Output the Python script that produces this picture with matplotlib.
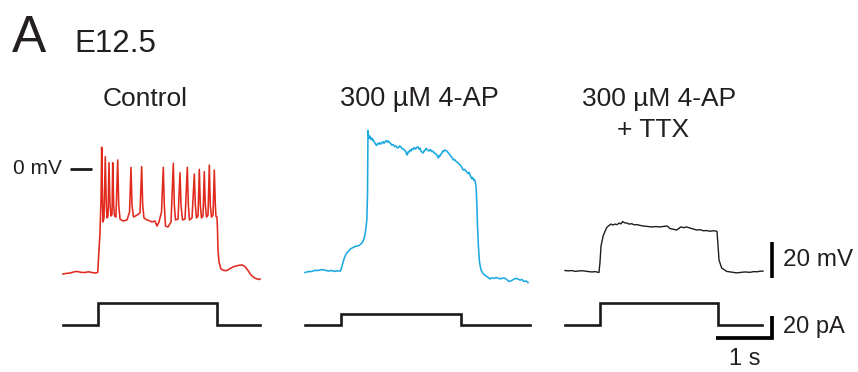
import matplotlib
matplotlib.use("Agg")
import matplotlib.pyplot as plt

plt.rcParams["font.family"] = ["Liberation Sans", "DejaVu Sans"]
INK = "#231f20"

# ---- recorded membrane potential (time in s, voltage in mV) ----
ctrl_t = [0, 0.06, 0.125, 0.19, 0.25, 0.32, 0.393, 0.45, 0.518, 0.57, 0.620, 0.643, 0.661,
          0.679, 0.691, 0.705, 0.714,
          0.732, 0.755, 0.773, 0.786, 0.804, 0.821, 0.839, 0.857, 0.875, 0.888, 0.905, 0.920,
          0.946, 0.977, 0.995, 1.018, 1.071, 1.143, 1.188, 1.214, 1.232, 1.259, 1.321, 1.375,
          1.405, 1.423, 1.446, 1.5, 1.554, 1.589, 1.643, 1.679, 1.714, 1.759, 1.791, 1.809,
          1.830, 1.875, 1.929, 1.970, 1.988, 2.009, 2.054, 2.089, 2.107, 2.134, 2.179, 2.220,
          2.238, 2.259, 2.304, 2.345, 2.363, 2.384, 2.411, 2.434, 2.452, 2.473, 2.5, 2.523,
          2.541, 2.563, 2.589, 2.613, 2.630, 2.652, 2.679, 2.702, 2.720, 2.732, 2.75, 2.759,
          2.768, 2.786, 2.821, 2.875, 2.929, 2.982, 3.054, 3.125, 3.196, 3.25, 3.304, 3.357,
          3.429, 3.5, 3.518]
ctrl_v = [-58.3, -58.0, -57.8, -57.2, -56.9, -57.4, -57.5, -57.1, -57.5, -57.8, -57.5, -45, -35,
          -17.2, 12.1, -17.2, -29.4,
          -27.2, 6.8, -20, -27.2, -26.1, 3.5, -20, -26.1, -25.3, 3.5, -20, -26.1,
          -26.7, 5, -20, -27.8, -28.9, -28.3, -23.9, 0.9, -20, -26.7, -25.6, -24.4,
          1.3, -20, -27.2, -28.3, -28.9, -29.4, -28.9, -31.7, -29.4, -23.9, 0.9, -20,
          -31.7, -32.2, -29.4, 3.2, -20, -28.3, -27.8, -2.1, -20, -28.3, -27.8, 0.9,
          -20, -28.3, -27.2, -2.8, -20, -27.2, -26.1, -0.2, -20, -27.2, -26.1, -1.5,
          -20, -26.7, -25.6, 2.2, -20, -26.7, -25.6, -0.6, -20, -26.4, -26.7, -33.9,
          -45, -51.7, -55.6, -56.4, -56.4, -55.3, -54.2, -53.6, -53.3, -54.2, -56.4, -58.9,
          -60.7, -61.4, -61.1]

fourap_t = [0, 0.06, 0.125, 0.18, 0.232, 0.29, 0.339, 0.39, 0.429, 0.475, 0.518, 0.58, 0.634,
            0.661, 0.696, 0.732, 0.777, 0.821,
            0.893, 0.964, 1.018, 1.054, 1.080, 1.104, 1.116, 1.121, 1.125,
            1.135, 1.148, 1.160, 1.170, 1.179, 1.195, 1.208, 1.220, 1.235, 1.25, 1.265, 1.280,
            1.296, 1.313, 1.330, 1.350, 1.370, 1.390, 1.410, 1.429, 1.450, 1.470, 1.488, 1.505,
            1.527, 1.550, 1.577, 1.600, 1.625, 1.645, 1.666, 1.690, 1.714, 1.735, 1.755, 1.775,
            1.795, 1.810, 1.827, 1.842, 1.857, 1.875, 1.893, 1.910, 1.929, 1.950, 1.970, 1.995,
            2.015, 2.036, 2.055, 2.071, 2.090, 2.113, 2.128, 2.143, 2.158, 2.173, 2.195, 2.214,
            2.240, 2.263, 2.285, 2.304, 2.330, 2.352, 2.368, 2.384, 2.398, 2.411, 2.430, 2.446,
            2.460, 2.470, 2.500, 2.530, 2.548, 2.563, 2.578, 2.589, 2.607, 2.625, 2.638, 2.648,
            2.670, 2.696, 2.716, 2.738, 2.762, 2.786, 2.805, 2.827, 2.850, 2.875, 2.895, 2.916,
            2.930, 2.946, 2.962, 2.977, 2.992, 3.009, 3.025, 3.036, 3.054, 3.066,
            3.080, 3.095, 3.116, 3.143, 3.179, 3.232, 3.27, 3.304, 3.34, 3.375, 3.41, 3.446,
            3.48, 3.518, 3.55, 3.589, 3.643, 3.696, 3.73, 3.768, 3.80, 3.839, 3.875, 3.911,
            3.95, 3.982]
fourap_v = [-57.5, -57.0, -56.9, -56.3, -56.4, -55.9, -56.1, -56.5, -56.7, -56.3, -56.9, -56.6,
            -56.7, -53.9, -50, -47.2, -45.6, -44.2,
            -43.1, -42.5, -41.1, -38.9, -35, -28.3, -14.4, 5, 21.4,
            18.0, 17.2, 18.3, 16.9, 16.4, 17.2, 15.9, 16.1, 15.0, 14.4, 13.5, 13.1,
            14.2, 13.9, 14.6, 13.8, 14.4, 15.2, 14.3, 15.0, 15.8, 14.9, 15.6, 14.7,
            14.4, 13.2, 13.6, 12.4, 12.8, 11.9, 11.7, 12.8, 12.2, 11.3, 11.1, 10.4,
            10.0, 8.6, 7.8, 9.6, 9.4, 10.6, 10.0, 11.2, 10.8, 11.9, 11.1, 11.9,
            12.4, 11.1, 11.6, 10.0, 9.3, 8.9, 10.2, 10.3, 11.4, 11.1, 10.4, 10.0,
            10.8, 9.7, 9.9, 8.9, 8.6, 7.8, 6.9, 6.1, 7.6, 7.2, 8.4, 8.9,
            10.0, 9.7, 10.6, 10.0, 9.4, 8.9, 8.2, 7.8, 7.2, 6.4, 5.8, 5.0,
            5.3, 4.2, 3.9, 3.1, 2.6, 1.7, 0.6, -0.6, -0.2, -1.1, -2.0, -2.5,
            -1.9, -3.3, -4.4, -5.3, -4.7, -6.1, -5.8, -6.7, -9.4, -17.2,
            -31.1, -42.2, -51.7, -56.1, -58.1, -59.4, -60.2, -61.1, -60.4, -60.8, -60.3, -60.6,
            -61.0, -60.8, -60.5, -61.1, -62.5, -61.9, -61.2, -60.8, -61.0, -61.7, -61.4, -62.5,
            -62.2, -63.1]

ttx_t = [0, 0.06, 0.125, 0.18, 0.232, 0.30, 0.357, 0.42, 0.482, 0.54, 0.607, 0.625, 0.643,
         0.684, 0.745, 0.816, 0.855, 0.893,
         0.930, 0.970, 1.000, 1.030, 1.065, 1.102, 1.145, 1.191, 1.235, 1.280, 1.340, 1.398,
         1.470, 1.548, 1.620, 1.696, 1.760, 1.827, 1.875, 1.935, 1.995, 2.066, 2.120,
         2.173, 2.263, 2.310, 2.352, 2.410, 2.470, 2.530, 2.589, 2.650, 2.714, 2.732, 2.75,
         2.798, 2.888, 3.0, 3.06, 3.125, 3.21, 3.304, 3.37, 3.429, 3.48, 3.536]
ttx_v = [-56.4, -56.6, -56.4, -56.9, -56.7, -56.5, -56.7, -57.0, -57.2, -57.0, -57.5, -51.7, -42.8,
         -36.9, -32.5, -30.6, -31.1, -30.6,
         -30.9, -30.0, -30.5, -29.2, -29.9, -30.0, -30.6, -30.4, -31.0, -30.9, -31.3, -31.7,
         -31.9, -32.2, -32.0, -32.2, -31.9, -31.7, -33.1, -33.5, -33.9, -32.2, -32.6,
         -32.2, -33.1, -33.5, -33.9, -33.7, -34.3, -34.2, -34.6, -34.3, -34.6, -42.2, -50.6,
         -55, -56.9, -57.4, -57.7, -57.5, -57.2, -57.4, -57.0, -57.1, -56.8, -56.7]

# ---- current injection protocol (s, pA) ----
step_on = [0.62, 0.643, 0.625]
step_off = [2.75, 2.786, 2.738]
step_end = [3.52, 4.02, 3.52]
step_amp = [20, 10, 20]

titles = ["Control", "300 µM 4-AP", "300 µM 4-AP"]
colors = ["#e1291d", "#1ca9e1", "#1e1e1e"]
trace_lw = [1.15, 1.15, 1.0]

# ---- layout (pixels) ----
W, H = 858, 372
PX_PER_S = 56.0
PX_PER_MV = 1.8
PX_PER_PA = 1.1
ZERO_MV_Y = 169.0
ZERO_PA_Y = 324.5
panel_left = [63, 305, 565]
panel_w = 240
v_top, v_h = 118, 172
i_top, i_h = 294, 56

fig = plt.figure(figsize=(W / 100, H / 100), dpi=100)


def px_axes(left, top, width, height):
    ax = fig.add_axes([left / W, 1 - (top + height) / H, width / W, height / H])
    ax.set_axis_off()
    ax.set_xlim(0, width / PX_PER_S)
    return ax


v_axes, i_axes = [], []
for k in range(3):
    av = px_axes(panel_left[k], v_top, panel_w, v_h)
    av.set_ylim((ZERO_MV_Y - (v_top + v_h)) / PX_PER_MV, (ZERO_MV_Y - v_top) / PX_PER_MV)
    ai = px_axes(panel_left[k], i_top, panel_w, i_h)
    ai.set_ylim((ZERO_PA_Y - (i_top + i_h)) / PX_PER_PA, (ZERO_PA_Y - i_top) / PX_PER_PA)
    v_axes.append(av)
    i_axes.append(ai)

traces = [(ctrl_t, ctrl_v), (fourap_t, fourap_v), (ttx_t, ttx_v)]
for k, (t, v) in enumerate(traces):
    v_axes[k].plot(t, v, color=colors[k], lw=trace_lw[k], solid_joinstyle="round",
                   clip_on=False)
    st = [0, step_on[k], step_on[k], step_off[k], step_off[k], step_end[k]]
    si = [0, 0, step_amp[k], step_amp[k], 0, 0]
    i_axes[k].plot(st, si, color="#1a1a1a", lw=1.9, solid_joinstyle="miter",
                   clip_on=False)

# 0 mV reference
av0 = v_axes[0]
av0.plot([0.125, 0.518], [0, 0], color="#1a1a1a", lw=2.0, solid_capstyle="butt")
av0.text(-0.02, 0, "0 mV", ha="right", va="center", fontsize=15, color=INK)

# scale bars (TTX panel)
avs, ais = v_axes[2], i_axes[2]
bar_x = 3.705
avs.plot([bar_x, bar_x], [-60.5, -40.5], color="black", lw=2.6,
         solid_capstyle="butt", clip_on=False)
avs.text(bar_x + 0.19, -50.3, "20 mV", ha="left", va="center", fontsize=17.5, color=INK)
ais.plot([bar_x - 1.0, bar_x, bar_x], [-12.3, -12.3, 7.7], color="black", lw=2.7,
         solid_capstyle="butt", solid_joinstyle="miter", clip_on=False)
ais.text(bar_x + 0.19, -2.0, "20 pA", ha="left", va="center", fontsize=17, color=INK)
ais.text(bar_x - 0.5, -31.0, "1 s", ha="center", va="center", fontsize=17, color=INK)

# headings
fig.text(12 / W, 1 - 52 / H, "A", fontsize=37, ha="left", va="baseline", color=INK)
fig.text(74 / W, 1 - 52 / H, "E12.5", fontsize=22.5, ha="left", va="baseline", color=INK)
fig.text(145 / W, 1 - 106 / H, titles[0], fontsize=19, ha="center", va="baseline", color=INK)
fig.text(419 / W, 1 - 106 / H, titles[1], fontsize=19.5, ha="center", va="baseline", color=INK)
fig.text(659 / W, 1 - 106 / H, titles[2], fontsize=19, ha="center", va="baseline", color=INK)
fig.text(653 / W, 1 - 137 / H, "+ TTX", fontsize=19, ha="center", va="baseline", color=INK)

fig.savefig("out.png", dpi=100, facecolor="white")
